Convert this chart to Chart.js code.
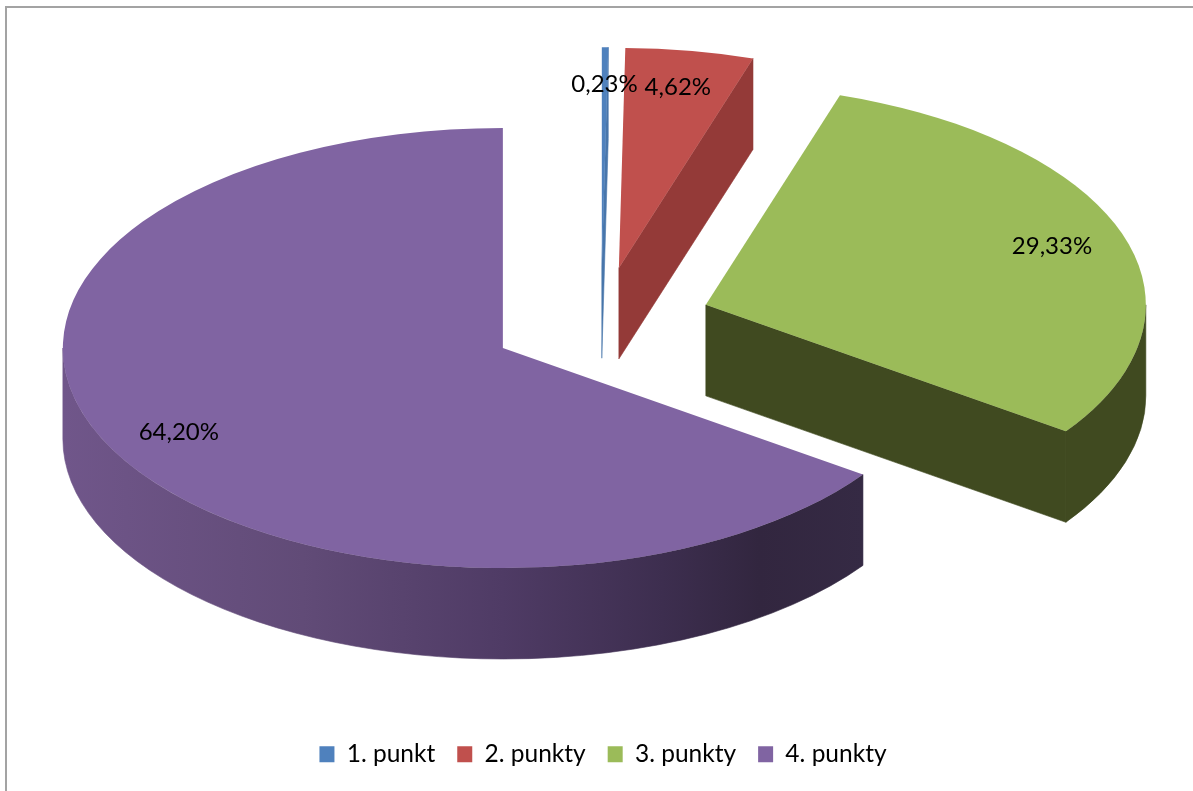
<!DOCTYPE html>
<html>
<head>
<meta charset="utf-8">
<title>Punkty</title>
<script src="https://cdn.jsdelivr.net/npm/chart.js@4/dist/chart.umd.js"></script>
<style>
  html, body { margin: 0; padding: 0; background: #fff; overflow: hidden; }
  #wrap { position: relative; width: 1193px; height: 791px; }
  #frame { position: absolute; left: 5px; top: 6px; right: 0; bottom: 0; border-left: 2px solid #a3a3a3; border-top: 2px solid #a3a3a3; }
  canvas { position: absolute; left: 0; top: 0; }
</style>
</head>
<body>
<div id="wrap">
  <div id="frame"></div>
  <canvas id="chart-punkty" width="1193" height="791"></canvas>
</div>
<script>
// Chart data
const categories = ['1. punkt', '2. punkty', '3. punkty', '4. punkty'];
const values = [0.23, 4.62, 29.33, 64.20];
const valueLabels = ['0,23%', '4,62%', '29,33%', '64,20%'];

// Colours of the top faces and the side walls
const topColors = ['#4f81bd', '#c0504d', '#9bbb59', '#8064a2'];
const wallColors = ['#4876ab', '#943a38', '#404a20', null];
const purpleWallStops = [
  [0, '#70568a'],
  [0.3, '#614b77'],
  [0.55, '#4f3b65'],
  [0.75, '#3d2e4f'],
  [0.87, '#32263f'],
  [1, '#352a44']
];

// Tilted, exploded pie: the arcs come from the library, the plugin only projects them
const pie3d = {
  id: 'pie3d',
  beforeDatasetDraw(chart, args, opts) {
    const ctx = chart.ctx;
    const arcs = chart.getDatasetMeta(0).data;

    const layout = arcs.map(arc => {
      const mid = (arc.startAngle + arc.endAngle) / 2;
      return {
        arc,
        mid,
        rx: arc.outerRadius,
        ry: arc.outerRadius * opts.tilt,
        cx: arc.x + opts.shift + Math.cos(mid) * opts.explode,
        cy: arc.y + opts.lift + Math.sin(mid) * opts.explode * opts.tilt
      };
    });

    layout.forEach((s, i) => {
      const a0 = s.arc.startAngle;
      const a1 = s.arc.endAngle;
      const px = a => s.cx + Math.cos(a) * s.rx;
      const py = a => s.cy + Math.sin(a) * s.ry;

      let wallFill = wallColors[i];
      if (!wallFill) {
        wallFill = ctx.createLinearGradient(s.cx - s.rx, 0, px(a0), 0);
        purpleWallStops.forEach(st => wallFill.addColorStop(st[0], st[1]));
      }
      ctx.fillStyle = wallFill;
      ctx.strokeStyle = wallFill;
      ctx.lineWidth = 0.6;

      // Flat cut at the clockwise end of the slice
      if (Math.cos(a1) > 1e-6) {
        ctx.beginPath();
        ctx.moveTo(s.cx, s.cy);
        ctx.lineTo(px(a1), py(a1));
        ctx.lineTo(px(a1), py(a1) + opts.depth);
        ctx.lineTo(s.cx, s.cy + opts.depth);
        ctx.closePath();
        ctx.fill();
        ctx.stroke();
      }

      // Curved outer wall, only the front half of the ellipse is visible
      const from = Math.max(a0, 0);
      const to = Math.min(a1, Math.PI);
      if (to > from) {
        ctx.beginPath();
        ctx.ellipse(s.cx, s.cy, s.rx, s.ry, 0, from, to);
        ctx.ellipse(s.cx, s.cy + opts.depth, s.rx, s.ry, 0, to, from, true);
        ctx.closePath();
        ctx.fill();
        ctx.stroke();
      }

      // Top face
      ctx.fillStyle = s.arc.options.backgroundColor;
      ctx.beginPath();
      ctx.moveTo(s.cx, s.cy);
      ctx.ellipse(s.cx, s.cy, s.rx, s.ry, 0, a0, a1);
      ctx.closePath();
      ctx.fill();
    });

    // Value labels
    ctx.fillStyle = '#000';
    ctx.font = opts.labelFont;
    ctx.textAlign = 'center';
    ctx.textBaseline = 'middle';
    layout.forEach((s, i) => {
      ctx.fillText(
        valueLabels[i],
        s.cx + Math.cos(s.mid) * s.rx * opts.labelRadius,
        s.cy + Math.sin(s.mid) * s.ry * opts.labelRadius
      );
    });

    return false;
  }
};

new Chart(document.getElementById('chart-punkty').getContext('2d'), {
  type: 'pie',
  plugins: [pie3d],
  data: {
    labels: categories,
    datasets: [{
      data: values,
      backgroundColor: topColors,
      borderWidth: 0
    }]
  },
  options: {
    responsive: false,
    animation: false,
    radius: 440,
    layout: { padding: { left: 13, bottom: 14.5 } },
    plugins: {
      tooltip: { enabled: false },
      legend: {
        position: 'bottom',
        labels: {
          color: '#000',
          boxWidth: 15,
          boxHeight: 16,
          padding: 22,
          font: { family: 'Lato', size: 24.5 }
        }
      },
      pie3d: {
        tilt: 0.5,
        explode: 110.6,
        depth: 91,
        shift: -2,
        lift: -37.5,
        labelRadius: 0.83,
        labelFont: '24px Lato'
      }
    }
  }
});
</script>
</body>
</html>
